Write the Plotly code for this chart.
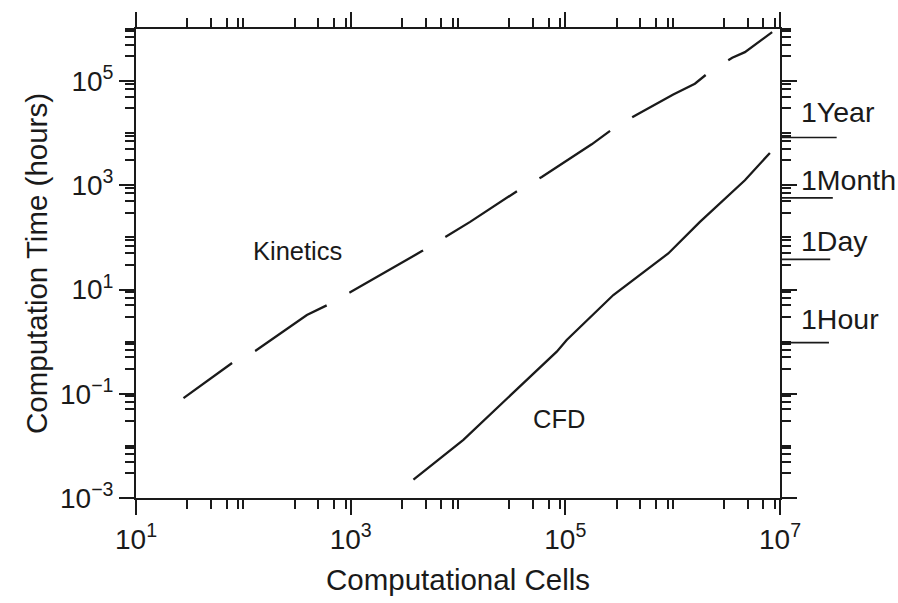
import math
import plotly.graph_objects as go

# ---- data ----
kin_cells = [27.7, 79.3, 129, 391, 608, 989, 4660, 7740, 12970, 36500, 60300,
             176000, 284000, 462000, 1.013e6, 1.61e6, 2.19e6, 3.59e6, 4.71e6, 8.45e6]
kin_hours = [0.0824, 0.396, 0.664, 3.24, 5.05, 8.83, 55.3, 106, 199, 805, 1449,
             6120, 12590, 22700, 55600, 89100, 148600, 280500, 359700, 868500]

cfd_cells = [3845, 11220, 83180, 103000, 280000, 910000, 1.795e6, 4.71e6, 8.05e6]
cfd_hours = [0.00225, 0.0131, 0.643, 1.08, 7.85, 49.3, 199, 1253, 4180]

ref_labels = ["1Year", "1Month", "1Day", "1Hour"]
ref_hours = [8300, 575, 38, 0.96]

x_major = [1e1, 1e3, 1e5, 1e7]
x_major_text = ["10<sup>1</sup>", "10<sup>3</sup>", "10<sup>5</sup>", "10<sup>7</sup>"]
y_major = [1e-3, 1e-1, 1e1, 1e3, 1e5]
y_major_text = ["10<sup>\u22123</sup>", "10<sup>\u22121</sup>", "10<sup>1</sup>",
                "10<sup>3</sup>", "10<sup>5</sup>"]

def minor_vals(lo, hi):
    vals = []
    for n in range(lo, hi):
        for m in (3, 5, 7, 9):
            vals.append(m * 10.0 ** n)
        if (n + 1) % 2 == 0 and n + 1 <= hi:
            vals.append(10.0 ** (n + 1))
    return vals

x_minor = minor_vals(1, 7)
y_minor = minor_vals(-3, 6)

FONT = "Liberation Sans, Arial, Helvetica, sans-serif"
INK = "#1a1a1a"

fig = go.Figure()
fig.add_trace(go.Scatter(
    x=kin_cells, y=kin_hours, mode="lines",
    line=dict(color=INK, width=2.3,
              dash="60px,26px,85px,26px,85px,26px,85px,26px,85px,26px,85px,27px,85px"),
    showlegend=False, hoverinfo="skip"))
fig.add_trace(go.Scatter(
    x=cfd_cells, y=cfd_hours, mode="lines",
    line=dict(color=INK, width=2.3),
    showlegend=False, hoverinfo="skip"))

axis_common = dict(
    type="log", showgrid=False, zeroline=False,
    showline=True, linecolor=INK, linewidth=1.8,
    ticks="outside", ticklen=15, tickwidth=1.6, tickcolor=INK,
    mirror="ticks",
    tickfont=dict(family=FONT, size=28, color=INK),
)

fig.update_layout(
    width=898, height=603,
    margin=dict(l=136, r=118, t=29, b=105),
    paper_bgcolor="white", plot_bgcolor="white",
    xaxis=dict(axis_common, range=[1, 7], tickmode="array",
               tickvals=x_major, ticktext=x_major_text,
               minor=dict(tickmode="array", tickvals=x_minor, ticks="outside",
                          ticklen=9, tickwidth=1.6, tickcolor=INK, showgrid=False),
               title=dict(text="Computational Cells", standoff=16,
                          font=dict(family=FONT, size=29.5, color=INK))),
    yaxis=dict(axis_common, range=[-3, 6], tickmode="array",
               tickvals=y_major, ticktext=y_major_text,
               minor=dict(tickmode="array", tickvals=y_minor, ticks="outside",
                          ticklen=9, tickwidth=1.6, tickcolor=INK, showgrid=False),
               title=dict(text="Computation Time (hours)", standoff=4,
                          font=dict(family=FONT, size=29.5, color=INK))),
)

# curve labels
fig.add_annotation(x=math.log10(318), y=math.log10(54.6), text="Kinetics",
                   showarrow=False, font=dict(family=FONT, size=25.5, color=INK))
fig.add_annotation(x=math.log10(87300), y=math.log10(0.0326), text="CFD",
                   showarrow=False, font=dict(family=FONT, size=25.5, color=INK))

# reference time levels on the right
label_shift = [25, 18, 18, 24]
line_end = [1.088, 1.082, 1.078, 1.076]
for lab, h, sh, xe in zip(ref_labels, ref_hours, label_shift, line_end):
    fig.add_shape(type="line", xref="paper", yref="y", x0=1.0, x1=xe, y0=h, y1=h,
                  line=dict(color=INK, width=1.6))
    fig.add_annotation(xref="paper", yref="y", x=1.029, y=math.log10(h), yshift=sh,
                       xanchor="left", yanchor="middle", text=lab, showarrow=False,
                       font=dict(family=FONT, size=28.5, color=INK))

fig.write_html("out.html")
